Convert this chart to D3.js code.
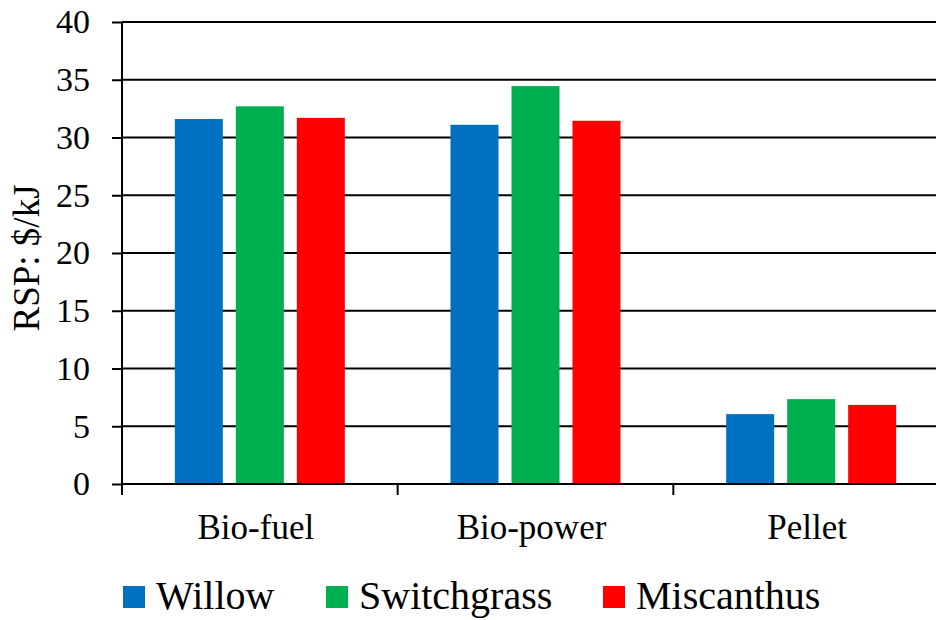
<!DOCTYPE html>
<html>
<head>
<meta charset="utf-8">
<script src="https://cdn.jsdelivr.net/npm/d3@7/dist/d3.min.js"></script>
<style>
  html, body { margin: 0; padding: 0; background: #fff; }
  svg { display: block; }
</style>
</head>
<body>
<svg id="chart" width="936" height="620"></svg>
<script>
// Retail selling price by product and feedstock
const categories = ["Bio-fuel", "Bio-power", "Pellet"];
const seriesNames = ["Willow", "Switchgrass", "Miscanthus"];
const willow = [31.6, 31.1, 6.05];
const switchgrass = [32.7, 34.45, 7.35];
const miscanthus = [31.7, 31.45, 6.85];
const yTicks = [0, 5, 10, 15, 20, 25, 30, 35, 40];
const colors = ["#0070C0", "#00B050", "#FF0000"];

const seriesValues = [willow, switchgrass, miscanthus];
const FONT = "Liberation Serif, DejaVu Serif, serif";

const svg = d3.select("#chart").attr("font-family", FONT);

const plotLeft = 122, plotRight = 949, plotTop = 22, plotBottom = 484;

const x = d3.scaleBand().domain(categories).range([plotLeft, plotRight]).padding(0);
const inner = d3.scaleBand().domain(seriesNames)
  .range([0, x.bandwidth()]).paddingInner(0.213).paddingOuter(0.866);
const y = d3.scaleLinear().domain([0, 40]).range([plotBottom, plotTop]);

// horizontal gridlines
svg.append("g")
  .selectAll("line")
  .data(yTicks.filter(d => d > 0))
  .join("line")
  .attr("x1", plotLeft).attr("x2", plotRight)
  .attr("y1", d => y(d)).attr("y2", d => y(d))
  .attr("stroke", "#000").attr("stroke-width", 2);

// bars
const groups = svg.append("g")
  .selectAll("g")
  .data(seriesNames.map((name, i) => ({ name, i, values: seriesValues[i] })))
  .join("g")
  .attr("fill", d => colors[d.i]);

groups.selectAll("rect")
  .data(d => d.values.map((v, j) => ({ name: d.name, cat: categories[j], v })))
  .join("rect")
  .attr("x", d => x(d.cat) + inner(d.name))
  .attr("width", inner.bandwidth())
  .attr("y", d => y(d.v))
  .attr("height", d => y(0) - y(d.v));

// y axis
const yAxis = d3.axisLeft(y).tickValues(yTicks).tickSize(10).tickPadding(22);
const gy = svg.append("g").attr("transform", `translate(${plotLeft},0)`).call(yAxis)
  .attr("font-family", FONT).attr("font-size", 34);
gy.select(".domain").attr("stroke", "#000").attr("stroke-width", 2)
  .attr("d", `M0,${plotTop}V${plotBottom + 11}`);
gy.selectAll(".tick line").attr("stroke", "#000").attr("stroke-width", 2);
gy.selectAll(".tick text").attr("fill", "#000");

// x axis: boundary ticks between categories
const bounds = [plotLeft, ...categories.slice(1).map(c => x(c)), plotRight];
const gx = svg.append("g");
gx.append("line")
  .attr("x1", plotLeft).attr("x2", plotRight)
  .attr("y1", plotBottom).attr("y2", plotBottom)
  .attr("stroke", "#000").attr("stroke-width", 2);
gx.selectAll("line.tk")
  .data(bounds)
  .join("line").attr("class", "tk")
  .attr("x1", d => d).attr("x2", d => d)
  .attr("y1", plotBottom).attr("y2", plotBottom + 11)
  .attr("stroke", "#000").attr("stroke-width", 2);
gx.selectAll("text")
  .data(categories)
  .join("text")
  .attr("x", d => x(d) + x.bandwidth() / 2 - 4)
  .attr("y", 539)
  .attr("text-anchor", "middle")
  .attr("font-size", 35)
  .text(d => d);

// y axis title
svg.append("text")
  .attr("transform", "translate(39,258) rotate(-90)")
  .attr("text-anchor", "middle")
  .attr("font-size", 37)
  .text("RSP: $/kJ");

// legend
const legendX = [123, 326, 603];
const lg = svg.append("g")
  .selectAll("g")
  .data(seriesNames)
  .join("g")
  .attr("transform", (d, i) => `translate(${legendX[i]},586)`);
lg.append("rect")
  .attr("width", 22).attr("height", 22)
  .attr("fill", (d, i) => colors[i]);
lg.append("text")
  .attr("x", 33).attr("y", 23)
  .attr("font-size", 40)
  .text(d => d);
</script>
</body>
</html>
